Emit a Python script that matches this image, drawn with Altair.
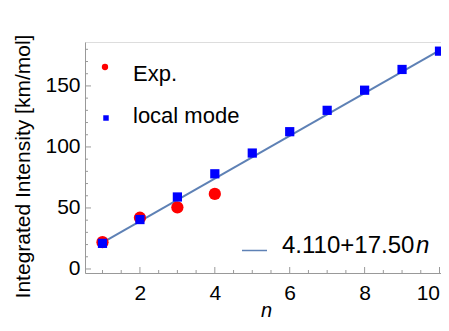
import altair as alt
import pandas as pd

# ---- data ----
n_exp = [1, 2, 3, 4]
exp_vals = [22.0, 42.0, 50.5, 61.5]

n_local = [1, 2, 3, 4, 5, 6, 7, 8, 9, 10]
local_vals = [21.0, 40.5, 59.0, 78.0, 95.0, 112.5, 130.0, 146.5, 163.5, 178.5]

fit_n = [1, 10]
fit_vals = [21.6, 179.1]

x_tick_labels = [2, 4, 6, 8, 10]
y_tick_labels = [0, 50, 100, 150]
x_minor = [1, 1.5, 2, 2.5, 3, 3.5, 4, 4.5, 5, 5.5, 6, 6.5, 7, 7.5, 8, 8.5, 9, 9.5, 10]
y_minor = [0, 10, 20, 30, 40, 50, 60, 70, 80, 90, 100, 110, 120, 130, 140, 150, 160, 170, 180]

legend_labels = ["Exp.", "local mode"]
fit_label = "4.110+17.50"
fit_var = "n"

FONT = "Liberation Sans"
W, H = 356, 231
AX = "#999999"

xs = alt.Scale(domain=[0.533, 10.04], nice=False, zero=False)
ys = alt.Scale(domain=[-3.3, 186], nice=False, zero=False)

exp_df = pd.DataFrame({"n": n_exp, "v": exp_vals})
loc_df = pd.DataFrame({"n": n_local, "v": local_vals})
fit_df = pd.DataFrame({"n": fit_n, "v": fit_vals})

xaxis = alt.Axis(values=x_tick_labels, ticks=False, grid=False, domainColor=AX,
                 labelFont=FONT, labelFontSize=21, labelColor="black", labelPadding=9,
                 labelFlush=3, labelFlushOffset=0,
                 title="n", titleFont=FONT, titleFontSize=20, titleFontStyle="italic",
                 titleFontWeight="normal", titleColor="black", titlePadding=-3, titleX=181)
yaxis = alt.Axis(values=y_tick_labels, ticks=False, grid=False, domainColor=AX,
                 labelFont=FONT, labelFontSize=21, labelColor="black", labelPadding=5,
                 title="Integrated Intensity [km/mol]", titleFont=FONT, titleFontSize=21,
                 titleFontWeight="normal", titleColor="black", titlePadding=11, titleY=124)

X = lambda f: alt.X(f, scale=xs, axis=xaxis, title="n")
Y = lambda f: alt.Y(f, scale=ys, axis=yaxis, title="Integrated Intensity [km/mol]")

fit_line = alt.Chart(fit_df).mark_line(color="#5E81B5", strokeWidth=2).encode(
    x=X("n:Q"), y=Y("v:Q"))

exp_pts = alt.Chart(exp_df).mark_circle(color="#FF0000", size=150, opacity=1).encode(
    x=X("n:Q"), y=Y("v:Q"))

loc_pts = alt.Chart(loc_df).mark_square(color="#0000FF", size=85, opacity=1).encode(
    x=X("n:Q"), y=Y("v:Q"))

# inward ticks
xt_df = pd.DataFrame({"t": x_minor, "major": [t in x_tick_labels for t in x_minor]})
yt_df = pd.DataFrame({"t": y_minor, "major": [t in y_tick_labels for t in y_minor]})

x_ticks_major = alt.Chart(xt_df).transform_filter("datum.major").mark_rule(color=AX, strokeWidth=1).encode(
    x=X("t:Q"), y=alt.value(H), y2=alt.value(H - 6))
x_ticks_minor = alt.Chart(xt_df).transform_filter("!datum.major").mark_rule(color=AX, strokeWidth=1).encode(
    x=X("t:Q"), y=alt.value(H), y2=alt.value(H - 3))
y_ticks_major = alt.Chart(yt_df).transform_filter("datum.major").mark_rule(color=AX, strokeWidth=1).encode(
    y=Y("t:Q"), x=alt.value(0), x2=alt.value(6))
y_ticks_minor = alt.Chart(yt_df).transform_filter("!datum.major").mark_rule(color=AX, strokeWidth=1).encode(
    y=Y("t:Q"), x=alt.value(0), x2=alt.value(3))

# legend
one = pd.DataFrame({"a": [0]})
leg_exp_sym = alt.Chart(one).mark_circle(color="#FF0000", size=40, opacity=1).encode(
    x=alt.value(20), y=alt.value(25))
leg_loc_sym = alt.Chart(one).mark_square(color="#0000FF", size=30, opacity=1).encode(
    x=alt.value(21), y=alt.value(76))
leg_exp_txt = alt.Chart(pd.DataFrame({"label": [legend_labels[0]]})).mark_text(
    font=FONT, fontSize=22, align="left", baseline="alphabetic", color="black").encode(
    x=alt.value(48), y=alt.value(38.7), text="label:N")
leg_loc_txt = alt.Chart(pd.DataFrame({"label": [legend_labels[1]]})).mark_text(
    font=FONT, fontSize=22, align="left", baseline="alphabetic", color="black").encode(
    x=alt.value(48), y=alt.value(81.3), text="label:N")
leg_fit_line = alt.Chart(one).mark_rule(color="#5E81B5", strokeWidth=1.5).encode(
    x=alt.value(157), x2=alt.value(182), y=alt.value(208.5))
leg_fit_txt = alt.Chart(pd.DataFrame({"label": [fit_label]})).mark_text(
    font=FONT, fontSize=24, align="left", baseline="alphabetic", color="black").encode(
    x=alt.value(197), y=alt.value(211), text="label:N")
leg_fit_var = alt.Chart(pd.DataFrame({"label": [fit_var]})).mark_text(
    font=FONT, fontSize=24, fontStyle="italic", align="left", baseline="alphabetic", color="black").encode(
    x=alt.value(331), y=alt.value(211), text="label:N")

chart = alt.layer(
    fit_line, x_ticks_major, x_ticks_minor, y_ticks_major, y_ticks_minor,
    exp_pts, loc_pts,
    leg_exp_sym, leg_loc_sym, leg_exp_txt, leg_loc_txt, leg_fit_line, leg_fit_txt, leg_fit_var,
).properties(
    width=W, height=H, autosize="none",
    padding={"left": 77, "top": 34, "right": 0, "bottom": 50},
).configure_view(stroke=None).configure(background="white")

chart.save("out.html", embed_options={"renderer": "svg", "actions": False})
